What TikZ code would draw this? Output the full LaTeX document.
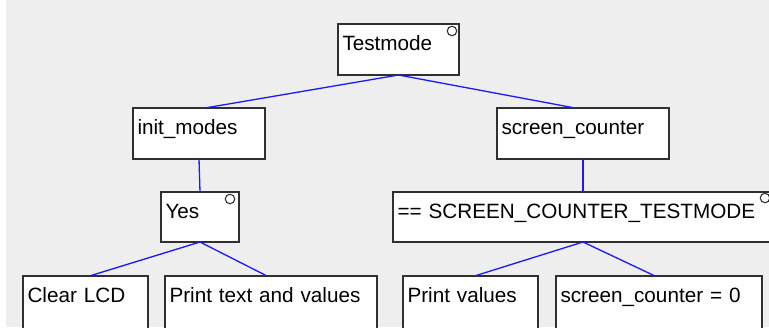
\documentclass[tikz,border=0pt]{standalone}
\usepackage{fontspec}
\setmainfont{Liberation Sans}
\usetikzlibrary{calc}
\definecolor{canvas}{HTML}{EEEEEE}
\definecolor{boxline}{HTML}{303030}
\definecolor{wire}{HTML}{1A1AFF}
\newcommand{\boxfont}{\fontsize{20.7}{24}\selectfont}
\tikzset{
  x=1pt, y=1pt,
  treebox/.style 2 args={draw=boxline, fill=white, line width=1.3pt,
    anchor=north west, outer sep=0pt, inner xsep=4.5pt, inner ysep=0pt,
    text height=26.5pt, text depth=#2, text width=#1, align=left,
    font=\boxfont},
  wirestyle/.style={draw=wire, line width=1.3pt},
  endmark/.style={circle, draw=boxline, fill=white, line width=1.1pt,
    minimum size=9.5pt, inner sep=0pt}
}
\begin{document}
\begin{tikzpicture}
  % canvas
  \fill[canvas] (0,0) rectangle (769,-327);
  \fill[white] (0,0) rectangle (6,-327);
  \useasboundingbox (0,0) rectangle (769,-327);

  % boxes: width minus 9pt padding, depth = height - 26.5pt
  \node[treebox={112pt}{24.5pt}] (test) at (338,-24) {Testmode};
  \node[treebox={123pt}{24.5pt}] (init) at (133,-108) {init\_modes};
  \node[treebox={163pt}{24.5pt}] (scr) at (497,-108) {screen\_counter};
  \node[treebox={69pt}{23.5pt}] (yes) at (161,-192) {Yes};
  \node[treebox={371pt}{23.5pt}] (cmp) at (393,-192) {== SCREEN\_COUNTER\_TESTMODE};
  \node[treebox={116pt}{40pt}] (clr) at (23,-276) {Clear LCD};
  \node[treebox={203pt}{40pt}] (ptv) at (165,-276) {Print text and values};
  \node[treebox={126pt}{40pt}] (pv) at (403,-276) {Print values};
  \node[treebox={197pt}{40pt}] (zero) at (556,-276) {screen\_counter = 0};

  % end markers
  \node[endmark] (m1) at ($(test.north east)+(-7,-7)$) {};
  \node[endmark] (m2) at ($(yes.north east)+(-9,-7)$) {};
  \node[endmark] (m3) at ($(cmp.north east)+(-8,-6)$) {};

  % connectors
  \draw[wirestyle] (test.south) -- ($(init.north)+(6,0)$);
  \draw[wirestyle] (test.south) -- ($(scr.north)+(-8,0)$);
  \draw[wirestyle] (init.south) -- (yes.north);
  \draw[wirestyle] (scr.south) -- (cmp.north);
  \draw[wirestyle] (yes.south) -- ($(clr.north)+(4,0)$);
  \draw[wirestyle] (yes.south) -- ($(ptv.north)+(-4,0)$);
  \draw[wirestyle] (cmp.south) -- ($(pv.north)+(4,0)$);
  \draw[wirestyle] (cmp.south) -- ($(zero.north)+(-4,0)$);
\end{tikzpicture}
\end{document}
